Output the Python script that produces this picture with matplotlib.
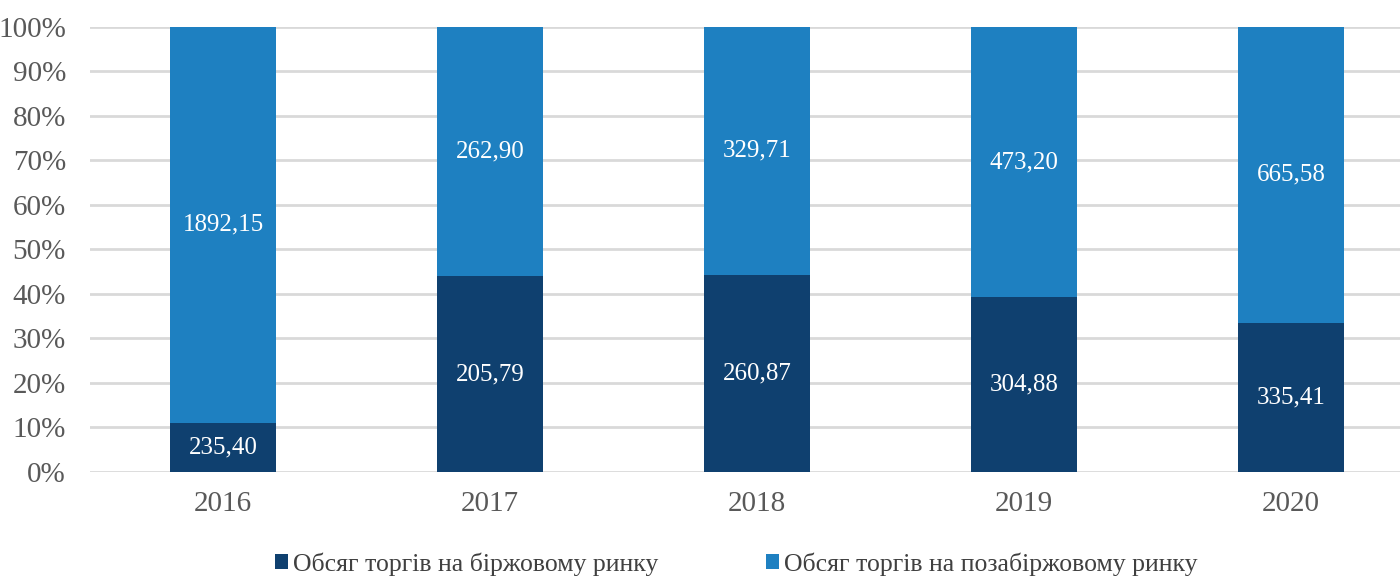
import matplotlib
matplotlib.use("Agg")
import matplotlib.pyplot as plt
import numpy as np

# дані
years = ["2016", "2017", "2018", "2019", "2020"]
birzh = [235.40, 205.79, 260.87, 304.88, 335.41]
pozabirzh = [1892.15, 262.90, 329.71, 473.20, 665.58]
labels = ["Обсяг торгів на біржовому ринку", "Обсяг торгів на позабіржовому ринку"]

c_dark = "#0F406F"
c_light = "#1E80C1"

plt.rcParams['font.family'] = ['Liberation Serif', 'DejaVu Serif']

b = np.array(birzh)
p = np.array(pozabirzh)
tot = b + p
b_pct = b / tot * 100
p_pct = p / tot * 100

fig = plt.figure(figsize=(14, 5.76), dpi=100)
# осі трохи виходять за межі рисунка, як в оригіналі
ax = fig.add_axes([0.064, 0.181, 0.9536, 0.7726])

x = np.arange(len(years))
w = 0.395
bars1 = ax.bar(x, b_pct, w, color=c_dark, label=labels[0], zorder=3)
bars2 = ax.bar(x, p_pct, w, bottom=b_pct, color=c_light, label=labels[1], zorder=3)

for i in range(len(years)):
    ax.text(x[i], b_pct[i] / 2, f"{birzh[i]:.2f}".replace(".", ","),
            ha="center", va="center", color="white", fontsize=18, zorder=4)
    ax.text(x[i], b_pct[i] + p_pct[i] / 2, f"{pozabirzh[i]:.2f}".replace(".", ","),
            ha="center", va="center", color="white", fontsize=18, zorder=4)

ax.set_xlim(-0.5, len(years) - 0.5)
ax.set_ylim(0, 100)
ax.set_yticks(np.arange(0, 101, 10))
ax.set_yticklabels([f"{v}%" for v in range(0, 101, 10)])
ax.set_xticks(x)
ax.set_xticklabels(years)
ax.tick_params(axis="both", length=0, labelsize=21, colors="#595959")
ax.tick_params(axis="y", pad=17)
ax.tick_params(axis="x", pad=14)
ax.yaxis.grid(True, color="#D9D9D9", linewidth=2, zorder=0)
for s in ax.spines.values():
    s.set_visible(False)

fig.legend(handles=[bars1, bars2], labels=labels, loc="lower center",
           bbox_to_anchor=(0.526, -0.04), ncol=2, frameon=False, fontsize=18.5,
           handlelength=0.5, handleheight=0.5, handletextpad=0.2, columnspacing=4.2,
           labelcolor="#404040")

fig.savefig("out.png", dpi=100)
